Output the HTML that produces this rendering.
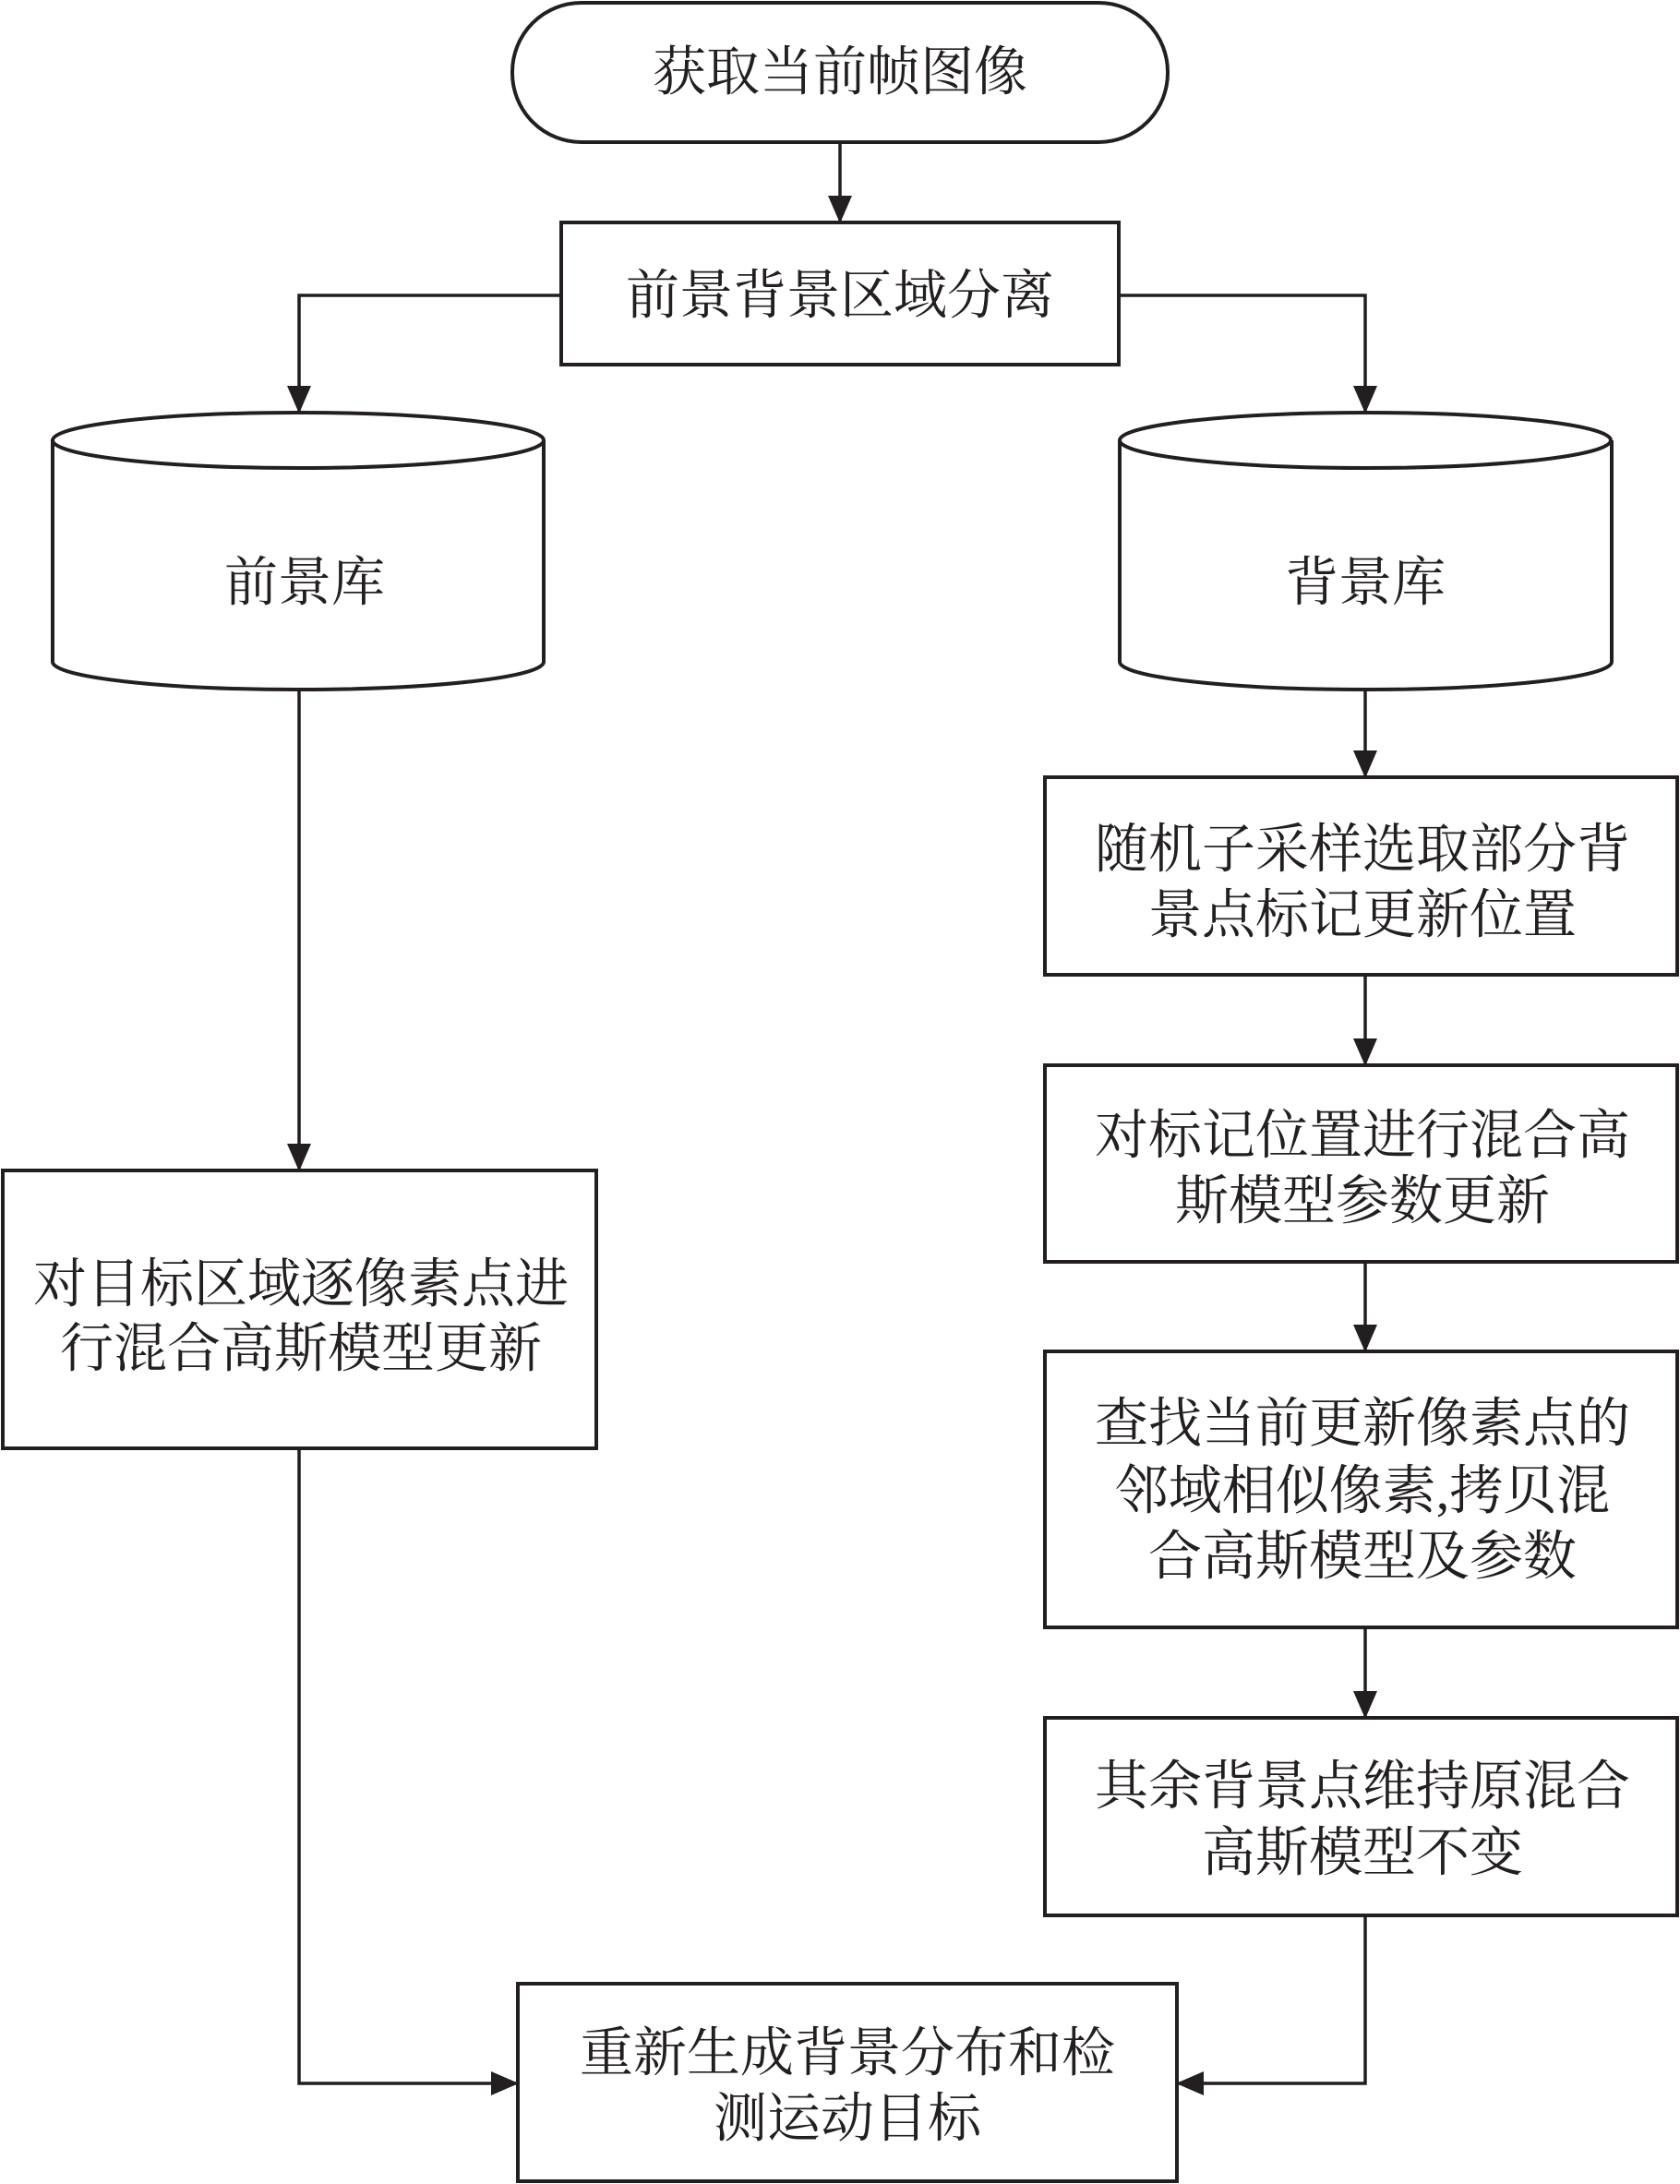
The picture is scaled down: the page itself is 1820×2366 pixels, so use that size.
<!DOCTYPE html>
<html><head><meta charset="utf-8"><style>
html,body{margin:0;padding:0;background:#fff}
svg{display:block}
text{font-family:"Liberation Serif","Noto Serif CJK SC",serif;font-size:58px;fill:#231f20;text-anchor:middle;dominant-baseline:central}
</style></head><body>
<svg width="1820" height="2366" viewBox="0 0 1820 2366" xmlns="http://www.w3.org/2000/svg">
<defs><marker id="a" markerWidth="30" markerHeight="26" refX="29" refY="13" orient="auto" markerUnits="userSpaceOnUse" viewBox="0 0 30 26"><path d="M0,0 L30,13 L0,26 z" fill="#231f20"/></marker></defs>
<g fill="none" stroke="#231f20" stroke-width="4">
<rect x="555" y="3" width="710" height="151" rx="75" ry="75" fill="#fff"/>
<rect x="608" y="241" width="604" height="154" fill="#fff"/>
<path d="M57,477 V717 A266,30 0 0 0 589,717 V477" fill="#fff"/>
<ellipse cx="323" cy="477" rx="266" ry="30" fill="#fff"/>
<path d="M1213,477 V717 A266,30 0 0 0 1746,717 V477" fill="#fff"/>
<ellipse cx="1479" cy="477" rx="266" ry="30" fill="#fff"/>
<rect x="3" y="1268" width="643" height="301" fill="#fff"/>
<rect x="1132" y="842" width="685" height="214" fill="#fff"/>
<rect x="1132" y="1154" width="685" height="213" fill="#fff"/>
<rect x="1132" y="1464" width="685" height="299" fill="#fff"/>
<rect x="1132" y="1861" width="685" height="214" fill="#fff"/>
<rect x="561" y="2149" width="714" height="214" fill="#fff"/>
<g stroke-width="3.5">
<path d="M910,154 V241" marker-end="url(#a)"/>
<path d="M608,320 H324 V447" marker-end="url(#a)"/>
<path d="M1212,320 H1479 V447" marker-end="url(#a)"/>
<path d="M324,747 V1268" marker-end="url(#a)"/>
<path d="M1479,747 V842" marker-end="url(#a)"/>
<path d="M1479,1056 V1154" marker-end="url(#a)"/>
<path d="M1479,1367 V1464" marker-end="url(#a)"/>
<path d="M1479,1763 V1861" marker-end="url(#a)"/>
<path d="M324,1569 V2257 H561" marker-end="url(#a)"/>
<path d="M1479,2075 V2257 H1275" marker-end="url(#a)"/>
</g>
</g>
<text x="910" y="78">获取当前帧图像</text>
<text x="910" y="320">前景背景区域分离</text>
<text x="330" y="631">前景库</text>
<text x="1479" y="631">背景库</text>
<text x="326" y="1391">对目标区域逐像素点进</text>
<text x="326" y="1461">行混合高斯模型更新</text>
<text x="1476" y="920">随机子采样选取部分背</text>
<text x="1476" y="991">景点标记更新位置</text>
<text x="1476" y="1230">对标记位置进行混合高</text>
<text x="1476" y="1301">斯模型参数更新</text>
<text x="1476" y="1542">查找当前更新像素点的</text>
<text x="1476" y="1615">邻域相似像素,拷贝混</text>
<text x="1476" y="1686">合高斯模型及参数</text>
<text x="1476" y="1935">其余背景点维持原混合</text>
<text x="1476" y="2007">高斯模型不变</text>
<text x="918" y="2224">重新生成背景分布和检</text>
<text x="918" y="2295">测运动目标</text>
</svg>
</body></html>
